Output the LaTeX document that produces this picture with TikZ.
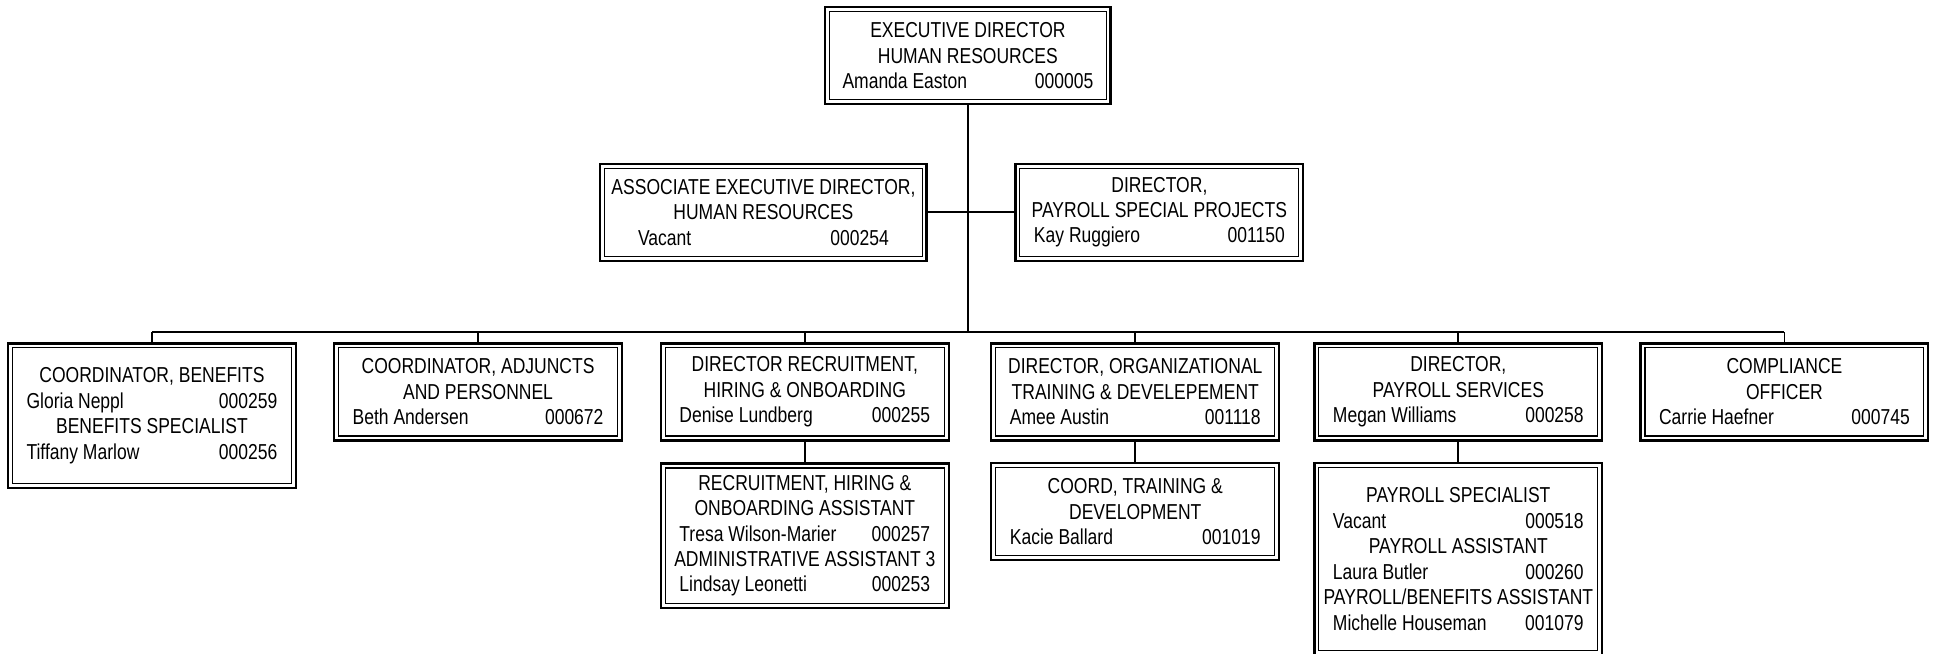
\documentclass[tikz,border=0pt]{standalone}
\usepackage{fontspec}
\setmainfont{Liberation Sans}[FakeStretch=0.81]
\begin{document}
\begin{tikzpicture}[x=1pt,y=-1pt,
  orgbox/.style={draw, line width=1.8pt, rectangle, inner sep=0pt, outer sep=0pt,
    minimum width=233pt, align=center,
    font=\fontsize{17.5}{20.6}\selectfont},
  h3/.style={minimum height=78.5pt},
  h5/.style={minimum height=117pt},
  h6/.style={minimum height=155pt},
  innerline/.style={draw, line width=0.9pt},
  conn/.style={draw, line width=1.4pt}]
\newcommand{\nmline}[2]{\makebox[203pt]{#1\hfill #2}}
\useasboundingbox (0,0) rectangle (1568,528.6);
% top
\node[orgbox,h3,minimum width=231pt] (top) at (783.5,45) {EXECUTIVE DIRECTOR\\HUMAN RESOURCES\\\nmline{Amanda Easton}{000005}};
% second level
\node[orgbox,h3,minimum width=264pt] (assoc) at (618,171.75) {ASSOCIATE EXECUTIVE DIRECTOR,\\HUMAN RESOURCES\\\nmline{Vacant}{000254}};
\node[orgbox,h3] (dpsp) at (938.5,171.75) {DIRECTOR,\\PAYROLL SPECIAL PROJECTS\\\nmline{Kay Ruggiero}{001150}};
% third level
\node[orgbox,h5] (b1) at (123,336.5) {COORDINATOR, BENEFITS\\\nmline{Gloria Neppl}{000259}\\BENEFITS SPECIALIST\\\nmline{Tiffany Marlow}{000256}};
\node[orgbox,h3] (b2) at (387,317.25) {COORDINATOR, ADJUNCTS\\AND PERSONNEL\\\nmline{Beth Andersen}{000672}};
\node[orgbox,h3] (b3) at (651.5,317.25) {DIRECTOR RECRUITMENT,\\HIRING \& ONBOARDING\\\nmline{Denise Lundberg}{000255}};
\node[orgbox,h3] (b4) at (919,317.25) {DIRECTOR, ORGANIZATIONAL\\TRAINING \& DEVELEPEMENT\\\nmline{Amee Austin}{001118}};
\node[orgbox,h3] (b5) at (1180.5,317.25) {DIRECTOR,\\PAYROLL SERVICES\\\nmline{Megan Williams}{000258}};
\node[orgbox,h3] (b6) at (1444.5,317.25) {COMPLIANCE\\OFFICER\\\nmline{Carrie Haefner}{000745}};
% fourth level
\node[orgbox,h5] (c1) at (651.5,433.7) {RECRUITMENT, HIRING \&\\ONBOARDING ASSISTANT\\\nmline{Tresa Wilson-Marier}{000257}\\ADMINISTRATIVE ASSISTANT 3\\\nmline{Lindsay Leonetti}{000253}};
\node[orgbox,h3] (c2) at (919,414.3) {COORD, TRAINING \&\\DEVELOPMENT\\\nmline{Kacie Ballard}{001019}};
\node[orgbox,h6] (c3) at (1180.5,452.5) {PAYROLL SPECIALIST\\\nmline{Vacant}{000518}\\PAYROLL ASSISTANT\\\nmline{Laura Butler}{000260}\\PAYROLL/BENEFITS ASSISTANT\\\nmline{Michelle Houseman}{001079}};
% inner lines
\foreach \n in {top,assoc,dpsp,b1,b2,b3,b4,b5,b6,c1,c2,c3}{
  \draw[innerline] ([xshift=3.6pt,yshift=-3.6pt]\n.north west) rectangle ([xshift=-3.6pt,yshift=3.6pt]\n.south east);
}
% connectors
\coordinate (bus) at (783.5,268.8);
\draw[conn] (top.south) -- (bus);
\draw[conn] (assoc.east) -- (dpsp.west);
\draw[conn] (b1.north |- bus) -- (b6.north |- bus);
\foreach \n in {b1,b2,b3,b4,b5,b6}{
  \draw[conn] (\n.north |- bus) -- (\n.north);
}
\draw[conn] (b3.south) -- (c1.north);
\draw[conn] (b4.south) -- (c2.north);
\draw[conn] (b5.south) -- (c3.north);
\end{tikzpicture}
\end{document}
